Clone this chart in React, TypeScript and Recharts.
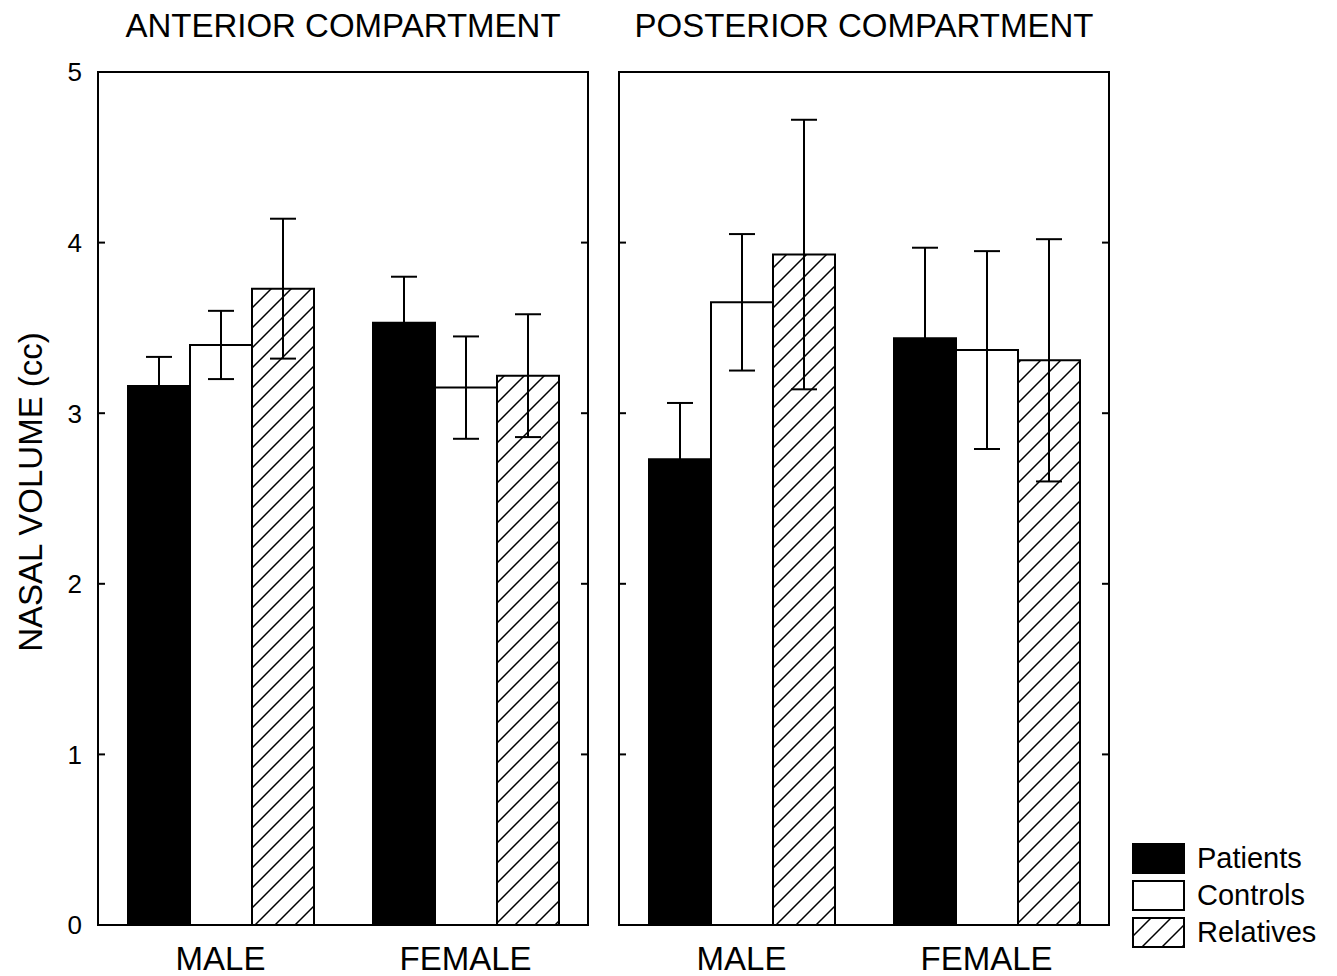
import { BarChart, Bar, XAxis, YAxis, ErrorBar, ReferenceArea, Legend } from "recharts";

const groups = ["MALE", "FEMALE"];
const seriesNames = ["Patients", "Controls", "Relatives"];
const yTicks = [0, 1, 2, 3, 4, 5];

// anterior compartment (cc), mean and error
const antPatients = [3.16, 3.53];
const antPatientsErr = [0.17, 0.27];
const antControls = [3.4, 3.15];
const antControlsErr = [0.2, 0.3];
const antRelatives = [3.73, 3.22];
const antRelativesErr = [0.41, 0.36];

// posterior compartment (cc)
const postPatients = [2.73, 3.44];
const postPatientsErr = [0.33, 0.53];
const postControls = [3.65, 3.37];
const postControlsErr = [0.4, 0.58];
const postRelatives = [3.93, 3.31];
const postRelativesErr = [0.79, 0.71];

const makeRows = (p, pe, c, ce, r, re) =>
  groups.map((g, i) => ({
    group: g,
    patients: p[i],
    patientsErr: pe[i],
    controls: c[i],
    controlsErr: ce[i],
    relatives: r[i],
    relativesErr: re[i],
  }));

const anteriorData = makeRows(antPatients, antPatientsErr, antControls, antControlsErr, antRelatives, antRelativesErr);
const posteriorData = makeRows(postPatients, postPatientsErr, postControls, postControlsErr, postRelatives, postRelativesErr);

const FONT = '"Liberation Sans", Arial, sans-serif';
const AXIS_W = 98;
const PLOT_W = 490;
const PLOT_TOP = 72;
const PLOT_BOTTOM = 925;
const CHART_H = 976;

const HatchDef = ({ id }) => (
  <pattern id={id} patternUnits="userSpaceOnUse" width={20} height={20}>
    <rect width={20} height={20} fill="#fff" />
    <path d="M0,20 L20,0 M-5,5 L5,-5 M15,25 L25,15" stroke="#000" strokeWidth={1.5} />
  </pattern>
);

const LegendBox = ({ payload }) => {
  // keep the series order, recharts sorts legend items by name
  const items = [...(payload || [])].sort(
    (a, b) => seriesNames.indexOf(a.value) - seriesNames.indexOf(b.value)
  );
  return (
    <div style={{ fontFamily: FONT, fontSize: 29, color: "#000" }}>
      <svg width={0} height={0} style={{ position: "absolute" }}>
        <defs>
          <HatchDef id="hatch-legend" />
        </defs>
      </svg>
      {items.map((entry, i) => (
        <div key={i} style={{ display: "flex", alignItems: "center", height: 31, marginBottom: 6 }}>
          <svg width={53} height={31}>
            <rect
              x={1}
              y={1}
              width={51}
              height={29}
              fill={entry.value === "Relatives" ? "url(#hatch-legend)" : entry.color}
              stroke="#000"
              strokeWidth={2}
            />
          </svg>
          <span style={{ marginLeft: 12, lineHeight: "31px" }}>{entry.value}</span>
        </div>
      ))}
    </div>
  );
};

function Panel({ data, title, id, left, width, showYLabels, showLegend }) {
  const plotR = AXIS_W + PLOT_W;
  const hatchId = `hatch-${id}`;

  const renderTick = (props) => {
    const { y, payload } = props;
    return (
      <g>
        {showYLabels && (
          <text x={AXIS_W - 16} y={y} dy="0.36em" textAnchor="end" fontSize={26} fontFamily={FONT} fill="#000">
            {payload.value}
          </text>
        )}
        <line x1={AXIS_W} x2={AXIS_W + 7} y1={y} y2={y} stroke="#000" strokeWidth={2} />
        <line x1={plotR - 7} x2={plotR} y1={y} y2={y} stroke="#000" strokeWidth={2} />
      </g>
    );
  };

  return (
    <div style={{ position: "absolute", left, top: 0 }}>
      <BarChart
        width={width}
        height={CHART_H}
        data={data}
        margin={{ top: PLOT_TOP, right: width - AXIS_W - PLOT_W, bottom: 0, left: 0 }}
        barSize={62}
        barGap={0}
      >
        <defs>
          <HatchDef id={hatchId} />
        </defs>
        <text x={AXIS_W + PLOT_W / 2} y={37} textAnchor="middle" fontSize={33} fontFamily={FONT} fill="#000">
          {title}
        </text>
        {showYLabels && (
          <text
            transform="translate(30,492) rotate(-90)"
            textAnchor="middle"
            dy="0.36em"
            fontSize={33}
            fontFamily={FONT}
            fill="#000"
          >
            NASAL VOLUME (cc)
          </text>
        )}
        <XAxis
          dataKey="group"
          height={CHART_H - PLOT_BOTTOM}
          axisLine={false}
          tickLine={false}
          tickSize={0}
          tickMargin={22}
          interval={0}
          tick={{ fontSize: 33, fill: "#000", fontFamily: FONT }}
        />
        <YAxis
          domain={[0, 5]}
          ticks={yTicks}
          width={AXIS_W}
          axisLine={false}
          tickLine={false}
          tick={renderTick}
        />
        <Bar dataKey="patients" name={seriesNames[0]} fill="#000" stroke="#000" strokeWidth={2} isAnimationActive={false}>
          <ErrorBar dataKey="patientsErr" width={13} stroke="#000" strokeWidth={2} isAnimationActive={false} />
        </Bar>
        <Bar dataKey="controls" name={seriesNames[1]} fill="#fff" stroke="#000" strokeWidth={2} isAnimationActive={false}>
          <ErrorBar dataKey="controlsErr" width={13} stroke="#000" strokeWidth={2} isAnimationActive={false} />
        </Bar>
        <Bar
          dataKey="relatives"
          name={seriesNames[2]}
          fill={`url(#${hatchId})`}
          stroke="#000"
          strokeWidth={2}
          isAnimationActive={false}
        >
          <ErrorBar dataKey="relativesErr" width={13} stroke="#000" strokeWidth={2} isAnimationActive={false} />
        </Bar>
        <ReferenceArea y1={0} y2={5} fill="none" fillOpacity={0} stroke="#000" strokeWidth={2} />
        {showLegend && (
          <Legend
            layout="vertical"
            align="center"
            verticalAlign="middle"
            content={LegendBox}
            wrapperStyle={{ left: 1132 - left, top: 843, width: 200 }}
          />
        )}
      </BarChart>
    </div>
  );
}

export default function App() {
  return (
    <div style={{ position: "absolute", left: 0, top: 0, width: 1337, height: 976, background: "#fff" }}>
      <Panel data={anteriorData} title="ANTERIOR COMPARTMENT" id="ant" left={0} width={600} showYLabels showLegend={false} />
      <Panel data={posteriorData} title="POSTERIOR COMPARTMENT" id="post" left={521} width={816} showYLabels={false} showLegend />
    </div>
  );
}
